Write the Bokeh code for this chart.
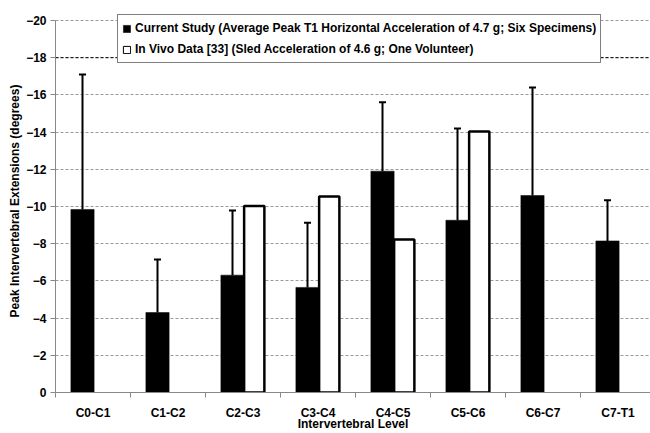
from bokeh.plotting import figure
from bokeh.models import (Range1d, FixedTicker, ColumnDataSource, Whisker, TeeHead,
                          Legend, LegendItem, Span)
from bokeh.embed import file_html
from bokeh.resources import INLINE

levels = ["C0-C1", "C1-C2", "C2-C3", "C3-C4", "C4-C5", "C5-C6", "C6-C7", "C7-T1"]
current_mean = [-9.84, -4.30, -6.31, -5.65, -11.90, -9.26, -10.59, -8.15]
current_sd = [7.26, 2.85, 3.47, 3.47, 3.70, 4.94, 5.81, 2.19]
in_vivo = [None, None, -10.03, -10.54, -8.23, -14.03, None, None]
y_ticks = [-20, -18, -16, -14, -12, -10, -8, -6, -4, -2, 0]

label_cur = "Current Study (Average Peak T1 Horizontal Acceleration of 4.7 g; Six Specimens)"
label_viv = "In Vivo Data [33] (Sled Acceleration of 4.6 g; One Volunteer)"

FONT = "Liberation Sans"

px_unit = 18.6
W, H = 650, 433
left_border, top_border, bottom_border = 55, 9, 41
frame_h = H - top_border - bottom_border
frame_w = W - left_border

p = figure(width=W, height=H, output_backend="svg", toolbar_location=None,
           x_range=Range1d(0, frame_w / 75.0),
           y_range=Range1d(0, -frame_h / px_unit),
           min_border_left=left_border, min_border_right=0,
           min_border_top=top_border, min_border_bottom=bottom_border)
p.outline_line_color = None
p.background_fill_color = "white"

centers = [i + 0.5 for i in range(len(levels))]
cur_src = ColumnDataSource(dict(
    x=[c - 0.14 for c in centers],
    top=current_mean,
    upper=[m - s for m, s in zip(current_mean, current_sd)],
))
viv_x = [c + 0.15 for c, v in zip(centers, in_vivo) if v is not None]
viv_top = [v for v in in_vivo if v is not None]
viv_src = ColumnDataSource(dict(x=viv_x, top=viv_top))

r_cur = p.vbar(x="x", top="top", bottom=0, width=0.31, source=cur_src,
               fill_color="black", line_color="black", line_width=0.5)
p.vbar(x="x", top="top", bottom=0, width=0.27, source=viv_src,
       fill_color="white", line_color="black", line_width=2.5)

w = Whisker(source=cur_src, base="x", lower="top", upper="upper", dimension="height",
            line_color="black", line_width=2,
            upper_head=TeeHead(size=7, line_color="black", line_width=2), lower_head=None)
p.add_layout(w)

p.add_layout(Span(location=-18, dimension="width", line_color="black",
                  line_dash="3 2", line_width=1, level="underlay"))

# axes
xa = p.xaxis[0]
xa.ticker = FixedTicker(ticks=centers, minor_ticks=list(range(0, 9)))
xa.major_label_overrides = {c: l for c, l in zip(centers, levels)}
xa.major_tick_out = 0
xa.major_tick_in = 0
xa.minor_tick_out = 5
xa.minor_tick_in = 0
xa.axis_label = "Intervertebral Level"

ya = p.yaxis[0]
ya.ticker = FixedTicker(ticks=y_ticks)
ya.bounds = (-20, 0)
ya.major_tick_out = 5
ya.major_tick_in = 0
ya.minor_tick_out = 0
ya.minor_tick_in = 0
ya.axis_label = "Peak Intervertebral Extensions (degrees)"

for ax in (xa, ya):
    ax.axis_line_color = "#888888"
    ax.axis_line_width = 1
    ax.major_tick_line_color = "#888888"
    ax.minor_tick_line_color = "#888888"
    ax.major_label_text_font = FONT
    ax.major_label_text_font_style = "bold"
    ax.major_label_text_font_size = "12px"
    ax.major_label_text_color = "black"
    ax.axis_label_text_font = FONT
    ax.axis_label_text_font_style = "bold"
    ax.axis_label_text_font_size = "12px"
    ax.axis_label_text_color = "black"

xa.major_label_standoff = 8
xa.axis_label_standoff = -6
ya.major_label_standoff = 4
ya.axis_label_standoff = 1

p.xgrid.grid_line_color = None
p.ygrid.ticker = FixedTicker(ticks=y_ticks[:-1])
p.ygrid.grid_line_color = "#9a9a9a"
p.ygrid.grid_line_dash = "3 2"
p.ygrid.grid_line_width = 1

# legend proxy for the outlined box (thin border), no visible mark
nan = float("nan")
proxy = ColumnDataSource(dict(x=[nan], top=[nan]))
r_viv = p.vbar(x="x", top="top", bottom=0, width=0.3, source=proxy,
               fill_color="white", line_color="black", line_width=1)
legend = Legend(items=[LegendItem(label=label_cur, renderers=[r_cur]),
                       LegendItem(label=label_viv, renderers=[r_viv])],
                location=(62, frame_h - 54))
legend.label_text_font = FONT
legend.label_text_font_style = "bold"
legend.label_text_font_size = "12px"
legend.label_text_color = "black"
legend.glyph_width = 9
legend.glyph_height = 9
legend.label_standoff = 4
legend.label_height = 18
legend.spacing = 3
legend.padding = 4
legend.margin = 0
legend.border_line_color = "black"
legend.border_line_width = 1.5
legend.background_fill_color = "white"
legend.background_fill_alpha = 1
p.add_layout(legend, "center")

open("out.html", "w").write(file_html(p, INLINE))
